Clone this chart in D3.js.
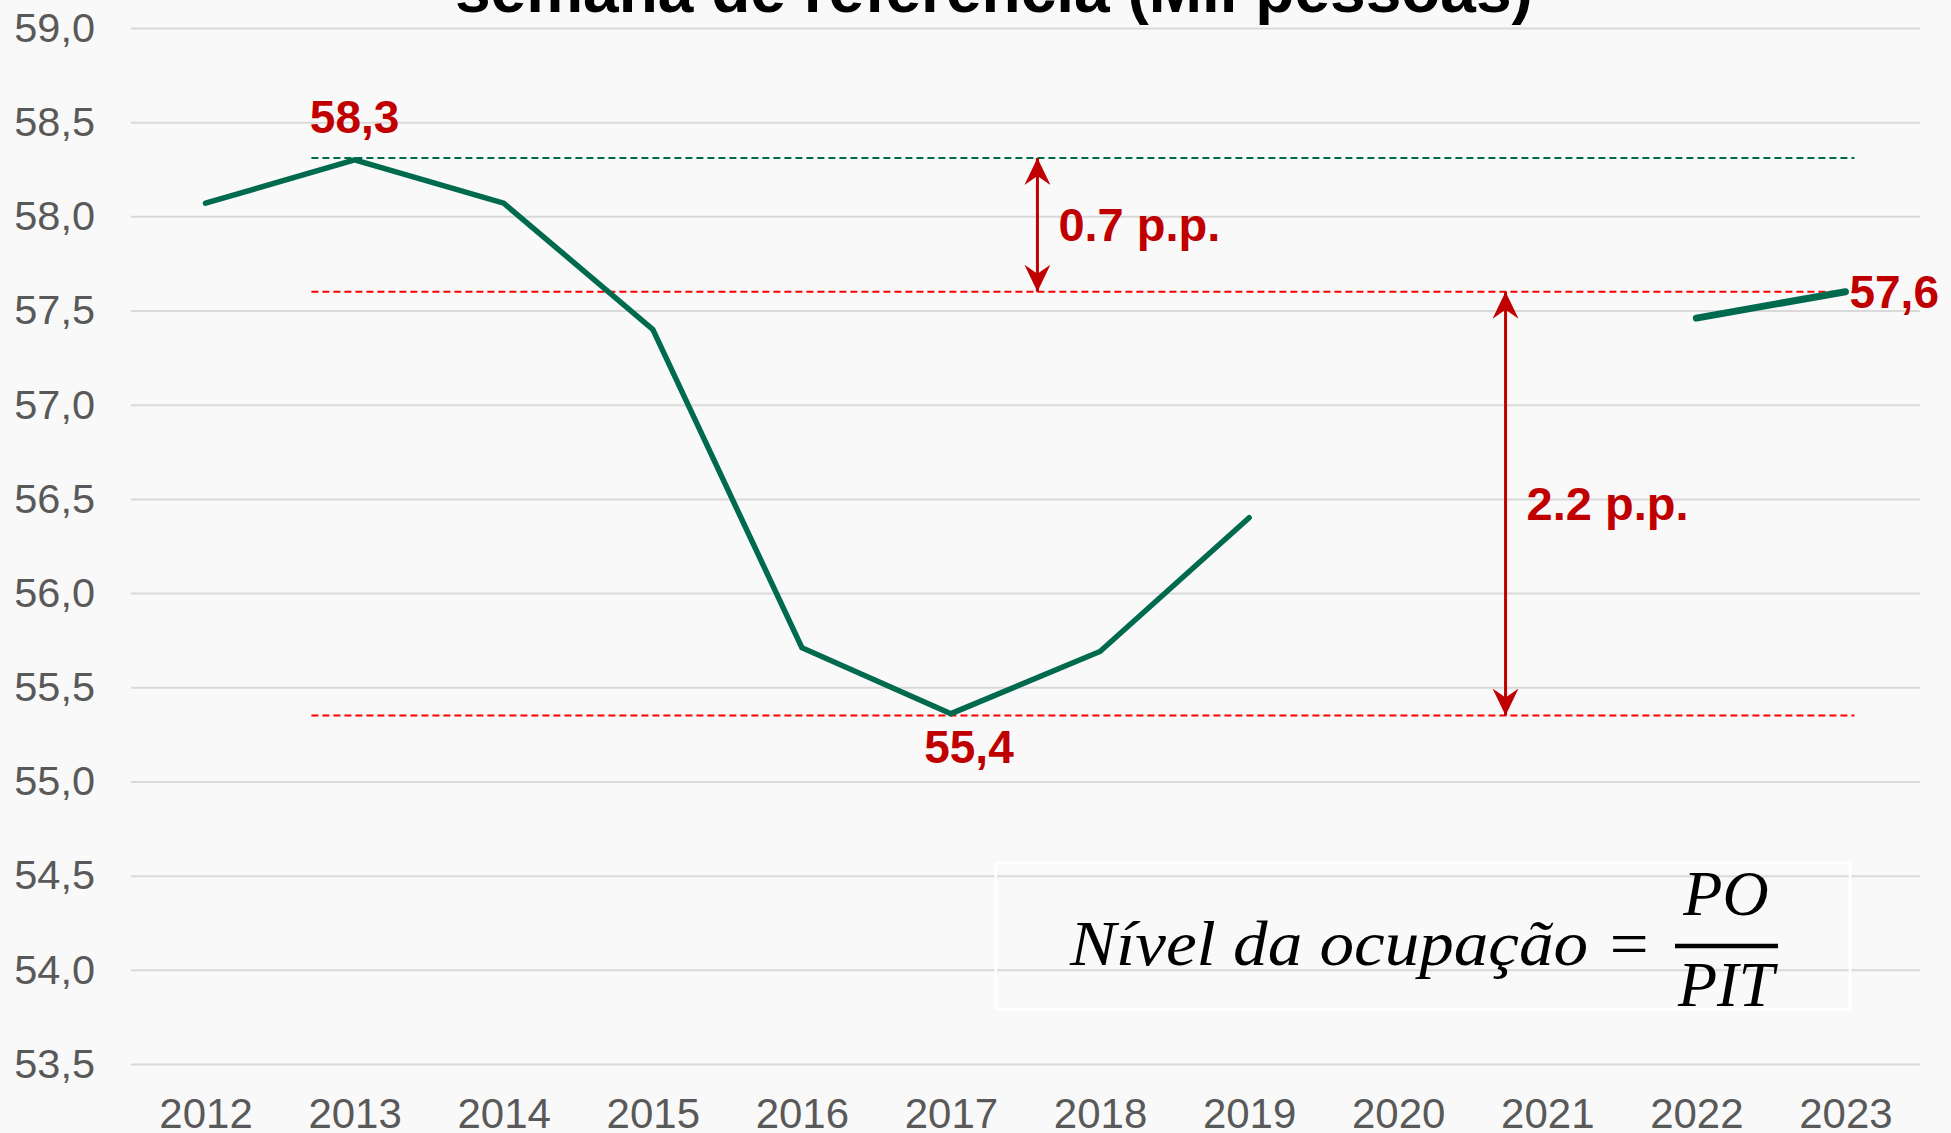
<!DOCTYPE html>
<html lang="pt">
<head>
    <meta charset="UTF-8">
    <title>Nível da ocupação</title>
    <script src="https://d3js.org/d3.v7.min.js"></script>
    <style>
        html, body {
            margin: 0;
            padding: 0;
            background: #f9f9f9;
            overflow: hidden;
        }
        svg text {
            font-family: "Liberation Sans", Arial, sans-serif;
        }
        .grid line {
            stroke: #d9d9d9;
            stroke-width: 2;
        }
        .tick text {
            fill: #595959;
        }
        .formula text {
            font-family: "Liberation Serif", "Times New Roman", serif;
            font-style: italic;
        }
    </style>
</head>
<body>
    <svg id="viz" width="1951" height="1133"></svg>

    <script>
        // Data
        const years = ["2012", "2013", "2014", "2015", "2016", "2017", "2018", "2019", "2020", "2021", "2022", "2023"];
        const nivel = [58.07, 58.30, 58.07, 57.40, 55.71, 55.36, 55.69, 56.40, null, null, 57.46, 57.60];
        const yTicks = [53.5, 54.0, 54.5, 55.0, 55.5, 56.0, 56.5, 57.0, 57.5, 58.0, 58.5, 59.0];

        // Value labels on the line
        const pointLabels = [
            { year: "2013", value: 58.30, text: "58,3" },
            { year: "2017", value: 55.36, text: "55,4" },
            { year: "2023", value: 57.60, text: "57,6" }
        ];

        // Dashed reference levels (max, current, min)
        const refLines = [
            { value: 58.31, from: 2012.71, to: 2023.06, color: "#006a4e" },
            { value: 57.60, from: 2012.71, to: 2023.06, color: "#ff0000" },
            { value: 55.35, from: 2012.71, to: 2023.06, color: "#ff0000" }
        ];

        // Difference arrows
        const arrows = [
            { at: 2017.58, top: 58.31, bottom: 57.60, text: "0.7 p.p." },
            { at: 2020.72, top: 57.60, bottom: 55.35, text: "2.2 p.p." }
        ];

        const width = 1951;
        const height = 1133;
        const svg = d3.select("#viz");

        const x = d3.scalePoint()
            .domain(years)
            .range([131, 1920])
            .padding(0.5);

        // continuous year scale lined up with the point scale (for annotations)
        const xYear = d3.scaleLinear()
            .domain([2012, 2023])
            .range([x("2012"), x("2023")]);

        const y = d3.scaleLinear()
            .domain([53.5, 59])
            .range([1064, 28]);

        const ptBR = d3.formatLocale({ decimal: ",", thousands: ".", grouping: [3], currency: ["R$", ""] });
        const fmt = ptBR.format(".1f");

        // Grid lines
        svg.append("g")
            .attr("class", "grid")
            .attr("transform", `translate(${x.range()[0]},0)`)
            .call(d3.axisLeft(y).tickValues(yTicks).tickSize(-(x.range()[1] - x.range()[0])).tickFormat(""))
            .call(g => g.select(".domain").remove());

        // Y axis labels
        svg.append("g")
            .attr("transform", "translate(95,0)")
            .call(d3.axisLeft(y).tickValues(yTicks).tickSize(0).tickPadding(0).tickFormat(fmt))
            .call(g => g.select(".domain").remove())
            .selectAll("text")
            .attr("font-size", 41.5)
            .attr("font-family", "Liberation Sans, Arial, sans-serif");

        // X axis labels
        svg.append("g")
            .attr("transform", "translate(0,1128)")
            .call(d3.axisBottom(x).tickSize(0).tickPadding(0))
            .call(g => g.select(".domain").remove())
            .selectAll("text")
            .attr("dy", 0)
            .attr("font-size", 42)
            .attr("font-family", "Liberation Sans, Arial, sans-serif");

        // Title (only its lower line is inside the picture)
        svg.append("text")
            .attr("x", 455)
            .attr("y", 12)
            .attr("font-size", 64)
            .attr("font-weight", "bold")
            .attr("fill", "#000")
            .text("semana de referência (Mil pessoas)");

        // Reference dashed lines
        svg.append("g").selectAll("line")
            .data(refLines)
            .join("line")
            .attr("x1", d => xYear(d.from))
            .attr("x2", d => xYear(d.to))
            .attr("y1", d => y(d.value))
            .attr("y2", d => y(d.value))
            .attr("stroke", d => d.color)
            .attr("stroke-width", 2)
            .attr("stroke-dasharray", "7,4");

        // Line, split where the series has gaps
        const pts = years.map((yr, i) => ({ year: yr, value: nivel[i] }));
        const runs = [];
        let cur = [];
        pts.forEach(p => {
            if (p.value == null) {
                if (cur.length) runs.push(cur);
                cur = [];
            } else {
                cur.push(p);
            }
        });
        if (cur.length) runs.push(cur);

        const line = d3.line()
            .x(d => x(d.year))
            .y(d => y(d.value));

        svg.append("g").selectAll("path")
            .data(runs)
            .join("path")
            .attr("d", line)
            .attr("fill", "none")
            .attr("stroke", "#006a4e")
            .attr("stroke-width", (d, i) => i === runs.length - 1 ? 7 : 5.5)
            .attr("stroke-linecap", "round")
            .attr("stroke-linejoin", "miter");

        // Arrow heads
        const defs = svg.append("defs");
        defs.append("marker")
            .attr("id", "head")
            .attr("viewBox", "0 0 27 26")
            .attr("refX", 27)
            .attr("refY", 13)
            .attr("markerWidth", 27)
            .attr("markerHeight", 26)
            .attr("markerUnits", "userSpaceOnUse")
            .attr("orient", "auto-start-reverse")
            .append("path")
            .attr("d", "M0,0 L27,13 L0,26 L9,13 Z")
            .attr("fill", "#c00000");

        const arrowG = svg.append("g");
        arrowG.selectAll("line")
            .data(arrows)
            .join("line")
            .attr("x1", d => xYear(d.at))
            .attr("x2", d => xYear(d.at))
            .attr("y1", d => y(d.top))
            .attr("y2", d => y(d.bottom))
            .attr("stroke", "#c00000")
            .attr("stroke-width", 3)
            .attr("marker-start", "url(#head)")
            .attr("marker-end", "url(#head)");

        arrowG.selectAll("text")
            .data(arrows)
            .join("text")
            .attr("x", d => xYear(d.at) + 21)
            .attr("y", d => (y(d.top) + y(d.bottom)) / 2 + 16)
            .attr("font-size", 47)
            .attr("font-weight", "bold")
            .attr("fill", "#c00000")
            .text(d => d.text);

        // Point labels
        svg.append("g").selectAll("text")
            .data(pointLabels)
            .join("text")
            .attr("x", d => d.text === "57,6" ? x(d.year) + 4 : x(d.year) + (d.text === "55,4" ? 18 : 0))
            .attr("y", d => d.text === "58,3" ? y(d.value) - 27 : d.text === "55,4" ? y(d.value) + 49 : y(d.value) + 16)
            .attr("text-anchor", d => d.text === "57,6" ? "start" : "middle")
            .attr("font-size", 46)
            .attr("font-weight", "bold")
            .attr("fill", "#c00000")
            .text(d => d.text);

        // Formula box
        const box = { x0: 2017.30, x1: 2023.03, top: 54.567, bottom: 53.79 };
        const fg = svg.append("g").attr("class", "formula");
        fg.append("rect")
            .attr("x", xYear(box.x0))
            .attr("y", y(box.top))
            .attr("width", xYear(box.x1) - xYear(box.x0))
            .attr("height", y(box.bottom) - y(box.top))
            .attr("fill", "none")
            .attr("stroke", "#ffffff")
            .attr("stroke-width", 2.5);

        fg.append("text")
            .attr("x", 1070)
            .attr("y", 965)
            .attr("font-size", 64)
            .attr("textLength", 582)
            .attr("lengthAdjust", "spacingAndGlyphs")
            .attr("fill", "#000")
            .text("Nível da ocupação =");

        fg.append("line")
            .attr("x1", 1675)
            .attr("x2", 1778)
            .attr("y1", 946)
            .attr("y2", 946)
            .attr("stroke", "#000")
            .attr("stroke-width", 4.5);

        fg.append("text")
            .attr("x", 1726)
            .attr("y", 915)
            .attr("text-anchor", "middle")
            .attr("font-size", 64)
            .attr("fill", "#000")
            .text("PO");

        fg.append("text")
            .attr("x", 1726)
            .attr("y", 1006)
            .attr("text-anchor", "middle")
            .attr("font-size", 64)
            .attr("fill", "#000")
            .text("PIT");
    </script>
</body>
</html>
